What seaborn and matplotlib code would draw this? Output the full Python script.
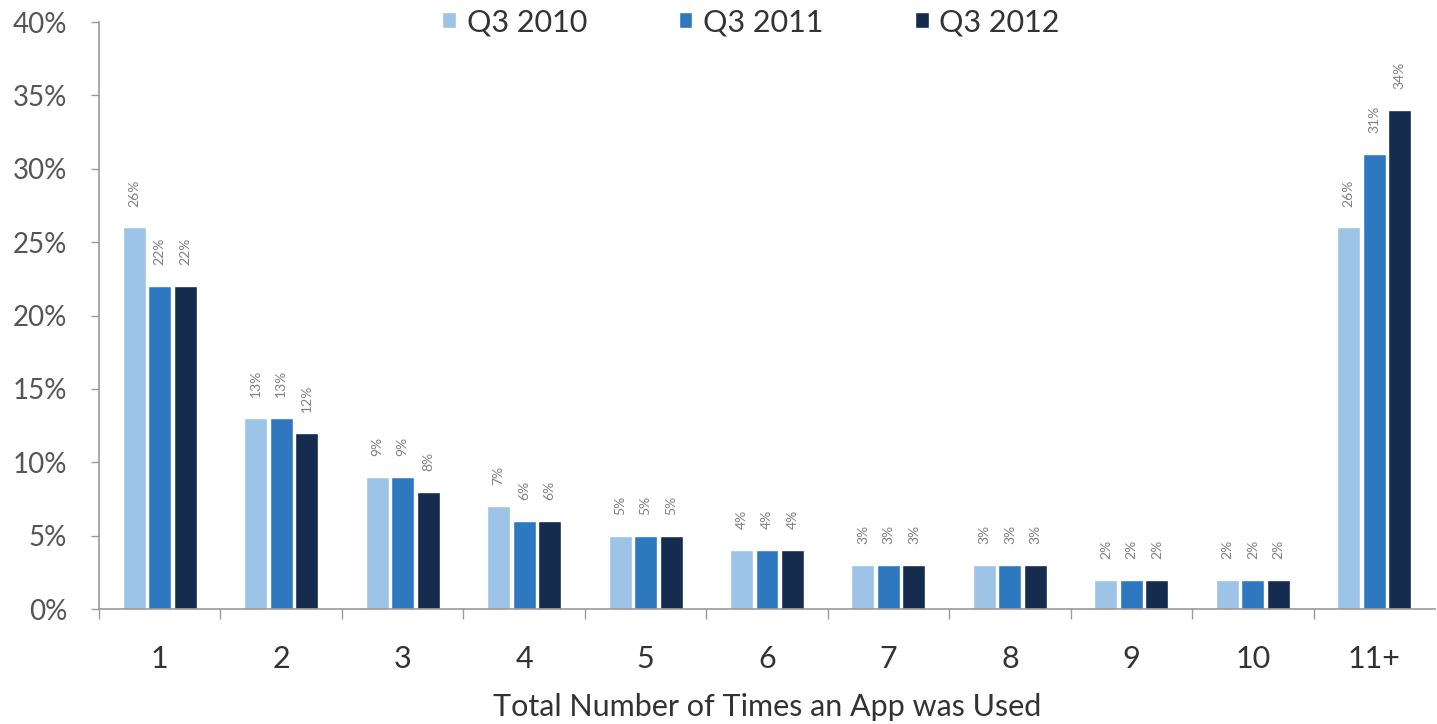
import matplotlib
matplotlib.use("Agg")
import matplotlib.pyplot as plt
import seaborn as sns
import pandas as pd
from matplotlib.ticker import FixedLocator

categories = ["1", "2", "3", "4", "5", "6", "7", "8", "9", "10", "11+"]
series = ["Q3 2010", "Q3 2011", "Q3 2012"]
q3_2010 = [26, 13, 9, 7, 5, 4, 3, 3, 2, 2, 26]
q3_2011 = [22, 13, 9, 6, 5, 4, 3, 3, 2, 2, 31]
q3_2012 = [22, 12, 8, 6, 5, 4, 3, 3, 2, 2, 34]
colors = ["#9dc3e6", "#2e78bf", "#152c4e"]
y_ticks = [0, 5, 10, 15, 20, 25, 30, 35, 40]
y_tick_labels = [f"{v}%" for v in y_ticks]

rows = []
for s, vals in zip(series, [q3_2010, q3_2011, q3_2012]):
    for c, v in zip(categories, vals):
        rows.append({"cat": c, "series": s, "value": v})
df = pd.DataFrame(rows)

sns.set_theme(style="white")
plt.rcParams["font.family"] = ["Lato", "DejaVu Sans"]

W, H = 1437, 724
fig = plt.figure(figsize=(W / 100, H / 100), dpi=100)
left, right, top, bottom = 99, 1435, 22, 609
ax = fig.add_axes([left / W, 1 - bottom / H, (right - left) / W, (bottom - top) / H])

sns.barplot(data=df, x="cat", y="value", hue="series", order=categories,
            hue_order=series, palette=colors, width=0.63, gap=0.1,
            saturation=1, ax=ax, legend=True, errorbar=None)

for cont in ax.containers:
    ax.bar_label(cont, labels=[f"{int(v)}%" for v in cont.datavalues],
                 rotation=90, fontsize=10, color="#808080", padding=15)

ax.set_ylim(0, 40)
ax.set_xlim(-0.5, len(categories) - 0.5)
ax.set_yticks(y_ticks)
ax.set_yticklabels(y_tick_labels)
ax.tick_params(axis="y", labelsize=20, colors="#555555", length=6, width=1,
               direction="out", left=True, color="#999999", pad=17)
ax.tick_params(axis="x", which="major", labelsize=22, colors="#333333", length=0, pad=26)
ax.xaxis.set_minor_locator(FixedLocator([i - 0.5 for i in range(len(categories))]))
ax.tick_params(axis="x", which="minor", length=7, width=1, color="#999999", bottom=True, direction="out")

ax.set_xlabel("Total Number of Times an App was Used", fontsize=22, color="#333333")
ax.xaxis.set_label_coords(0.5, -(693 - bottom) / (bottom - top))
ax.xaxis.label.set_va("top")
ax.set_ylabel("")

for side in ["top", "right"]:
    ax.spines[side].set_visible(False)
for side in ["left", "bottom"]:
    ax.spines[side].set_color("#999999")
    ax.spines[side].set_linewidth(1.2)

ax.legend(loc="center", bbox_to_anchor=(0.488, 1.0), ncol=3, frameon=False,
          fontsize=22, handlelength=0.45, handleheight=0.45, handletextpad=0.35,
          columnspacing=3.0, labelcolor="#333333")

fig.savefig("out.png", dpi=100)
